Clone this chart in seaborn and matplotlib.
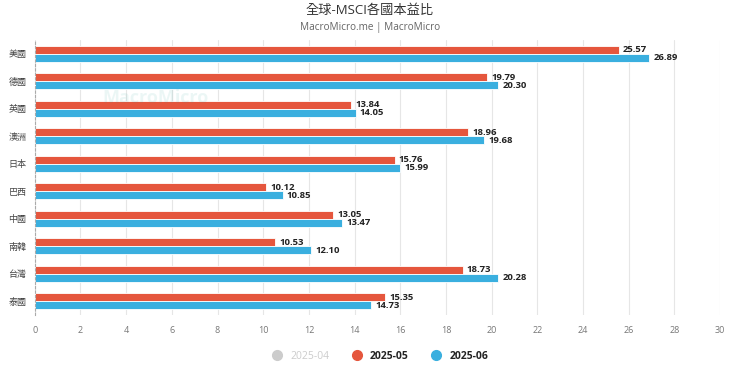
import pandas as pd
import matplotlib.pyplot as plt
import seaborn as sns
from matplotlib.lines import Line2D

# ── Data ─────────────────────────────────────────────────────────────────────
countries = ['美國', '德國', '英國', '澳洲', '日本', '巴西', '中國', '南韓', '台灣', '泰國']
pe_2025_05 = [25.57, 19.79, 13.84, 18.96, 15.76, 10.12, 13.05, 10.53, 18.73, 15.35]
pe_2025_06 = [26.89, 20.30, 14.05, 19.68, 15.99, 10.85, 13.47, 12.10, 20.28, 14.73]
series_names = ['2025-05', '2025-06']
x_ticks = list(range(0, 31, 2))

RED = '#e5563d'
BLUE = '#3aafdf'
GREY = '#cccccc'

df = pd.DataFrame({
    'country': countries * 2,
    'pe': pe_2025_05 + pe_2025_06,
    'series': [series_names[0]] * len(countries) + [series_names[1]] * len(countries),
})

sns.set_theme(style='white')
plt.rcParams['font.family'] = ['Open Sans', 'Noto Sans CJK TC', 'DejaVu Sans']

fig = plt.figure(figsize=(7.4, 3.74), dpi=100)
ax = fig.add_axes([0.047, 0.158, 0.926, 0.735])

sns.barplot(data=df, y='country', x='pe', hue='series', orient='h',
            palette=[RED, BLUE], width=0.58, ax=ax, legend=False,
            saturation=1, edgecolor='white', linewidth=0.6)

# value labels
for cont in ax.containers:
    ax.bar_label(cont, fmt='%.2f', padding=3, fontsize=6.8,
                 fontweight='bold', color='#222222')

ax.set_xlim(0, 30)
ax.set_xticks(x_ticks)
ax.set_xticklabels([str(t) for t in x_ticks], fontsize=6.5, color='#777777')
ax.set_yticks(range(len(countries)))
ax.set_yticklabels(countries, fontsize=6.5, color='#444444')
ax.tick_params(axis='y', length=0, pad=6)
ax.tick_params(axis='x', length=0, pad=8)
ax.set_xlabel('')
ax.set_ylabel('')
ax.grid(axis='x', color='#e6e6e6', linewidth=0.8)
ax.set_axisbelow(True)
for side in ['top', 'right', 'bottom']:
    ax.spines[side].set_visible(False)
ax.spines['left'].set_linestyle((0, (2, 2)))
ax.spines['left'].set_color('#aaaaaa')
ax.spines['left'].set_linewidth(0.8)

# faint watermark
fig.text(0.21, 0.738, 'MacroMicro', fontsize=13, color='#2aa59a', alpha=0.09,
         fontweight='bold', ha='center', va='center')

# titles
fig.text(0.5, 0.972, '全球-MSCI各國本益比', ha='center', va='center',
         fontsize=9.5, color='#333333')
fig.text(0.5, 0.926, 'MacroMicro.me | MacroMicro', ha='center', va='center',
         fontsize=7.2, color='#666666')

# legend
handles = [
    Line2D([0], [0], marker='o', linestyle='', markersize=7, color=GREY),
    Line2D([0], [0], marker='o', linestyle='', markersize=7, color=RED),
    Line2D([0], [0], marker='o', linestyle='', markersize=7, color=BLUE),
]
leg = fig.legend(handles, ['2025-04'] + series_names, loc='center',
                 bbox_to_anchor=(0.51, 0.048), ncol=3, frameon=False,
                 fontsize=7.5, handletextpad=0.3, columnspacing=1.6)
leg.get_texts()[0].set_color(GREY)
for t in leg.get_texts()[1:]:
    t.set_fontweight('bold')
    t.set_color('#222222')

fig.savefig('out.png', dpi=100)
